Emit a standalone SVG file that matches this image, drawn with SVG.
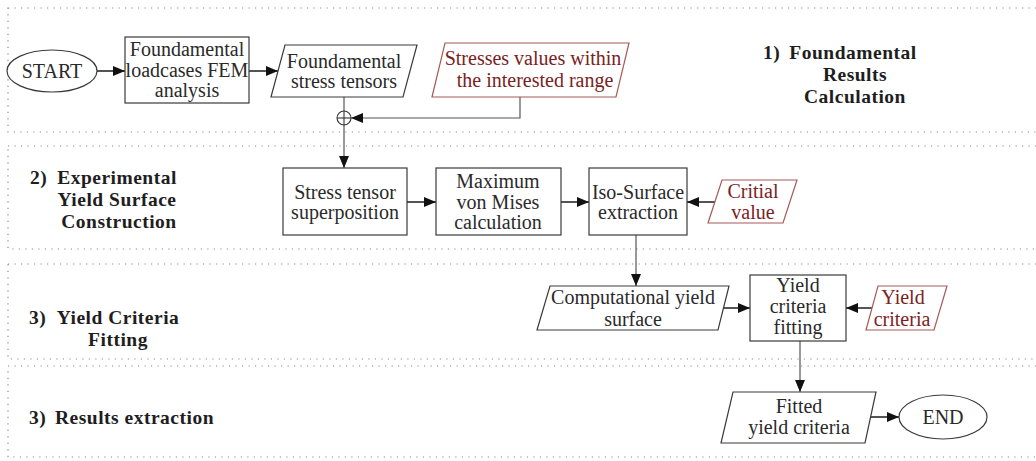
<svg xmlns="http://www.w3.org/2000/svg" width="1036" height="461" viewBox="0 0 1036 461" font-family="'Liberation Serif', 'DejaVu Serif', serif">
<style>
.lane{fill:none;stroke:#8a8a8a;stroke-width:1.2;stroke-dasharray:1.2 5.3}
.nd{fill:#fff;stroke:#3a3a3a;stroke-width:1.2}
.rd{fill:#fff;stroke:#a65a56;stroke-width:1.2}
.t{font-family:'Liberation Serif','DejaVu Serif',serif;font-size:20px;fill:#2a2a2a;text-anchor:middle}
.tr{font-family:'Liberation Serif','DejaVu Serif',serif;font-size:20px;fill:#7a2222;text-anchor:middle}
.lb{font-family:'Liberation Serif','DejaVu Serif',serif;font-size:19.5px;letter-spacing:0.5px;font-weight:bold;fill:#1e1e1e}
.c{fill:none;stroke:#2a2a2a;stroke-width:1.6}
.cv{fill:none;stroke:#555;stroke-width:1.2}
</style>
<defs>
<marker id="ahb" viewBox="0 0 10 10" refX="10" refY="5" markerWidth="12" markerHeight="10" markerUnits="userSpaceOnUse" orient="auto" preserveAspectRatio="none">
<path d="M0,0 L10,5 L0,10 z" fill="#111"/>
</marker>
</defs>
<rect width="1036" height="461" fill="#fff"/>
<g id="lanes">
<rect class="lane" x="8" y="8" width="1040" height="124"/>
<rect class="lane" x="8" y="146" width="1040" height="103"/>
<rect class="lane" x="8" y="264" width="1040" height="95"/>
<rect class="lane" x="8" y="366" width="1040" height="91"/>
</g>
<g id="lane-labels">
<text class="lb" x="763" y="59">1)</text>
<text class="lb" x="853" y="59" text-anchor="middle">Foundamental</text>
<text class="lb" x="855" y="81" text-anchor="middle">Results</text>
<text class="lb" x="855" y="103" text-anchor="middle">Calculation</text>
<text class="lb" x="30" y="184">2)</text>
<text class="lb" x="117" y="184" text-anchor="middle">Experimental</text>
<text class="lb" x="117" y="206" text-anchor="middle">Yield Surface</text>
<text class="lb" x="119" y="228" text-anchor="middle">Construction</text>
<text class="lb" x="29" y="324">3)</text>
<text class="lb" x="118" y="324" text-anchor="middle">Yield Criteria</text>
<text class="lb" x="118" y="346" text-anchor="middle">Fitting</text>
<text class="lb" x="29" y="424">3)</text>
<text class="lb" x="55" y="424">Results extraction</text>
</g>
<g id="connectors">
<line class="c" x1="97" y1="71" x2="125" y2="71" marker-end="url(#ahb)"/>
<line class="c" x1="249" y1="71" x2="278" y2="71" marker-end="url(#ahb)"/>
<line class="cv" x1="344" y1="97" x2="344" y2="168" marker-end="url(#ahb)"/>
<circle cx="344" cy="118" r="7" fill="#fff" stroke="#333" stroke-width="1.1"/>
<line x1="337" y1="118" x2="351" y2="118" stroke="#333" stroke-width="1.1"/>
<line x1="344" y1="111" x2="344" y2="125" stroke="#333" stroke-width="1.1"/>
<polyline class="cv" points="520,97 520,118 351,118" marker-end="url(#ahb)"/>
<line class="c" x1="407" y1="202" x2="436" y2="202" marker-end="url(#ahb)"/>
<line class="c" x1="561" y1="202" x2="589" y2="202" marker-end="url(#ahb)"/>
<line class="c" x1="715" y1="202" x2="687" y2="202" marker-end="url(#ahb)"/>
<line class="cv" x1="636" y1="235" x2="636" y2="286" marker-end="url(#ahb)"/>
<line class="c" x1="723" y1="308" x2="750" y2="308" marker-end="url(#ahb)"/>
<line class="c" x1="872" y1="308" x2="846" y2="308" marker-end="url(#ahb)"/>
<line class="cv" x1="800" y1="341" x2="800" y2="392" marker-end="url(#ahb)"/>
<line class="c" x1="870" y1="417" x2="899" y2="417" marker-end="url(#ahb)"/>
</g>
<g id="start">
<ellipse class="nd" cx="52" cy="71" rx="45" ry="21"/>
<text class="t" x="52" y="78">START</text>
</g>
<g id="fem">
<rect class="nd" x="125" y="37" width="124" height="66"/>
<text class="t" x="187" y="56">Foundamental</text>
<text class="t" x="187" y="77">loadcases FEM</text>
<text class="t" x="187" y="97">analysis</text>
</g>
<g id="tensors">
<polygon class="nd" points="285,45 417,45 403,97 271,97"/>
<text class="t" x="344" y="68">Foundamental</text>
<text class="t" x="344" y="88">stress tensors</text>
</g>
<g id="range">
<polygon class="rd" points="445,43 629,43 616,97 432,97"/>
<text class="tr" x="533" y="65">Stresses values within</text>
<text class="tr" x="535" y="87">the interested range</text>
</g>
<g id="superposition">
<rect class="nd" x="283" y="168" width="124" height="67"/>
<text class="t" x="345" y="199">Stress tensor</text>
<text class="t" x="345" y="219">superposition</text>
</g>
<g id="vonmises">
<rect class="nd" x="436" y="168" width="125" height="67"/>
<text class="t" x="498" y="188">Maximum</text>
<text class="t" x="498" y="209">von Mises</text>
<text class="t" x="498" y="229">calculation</text>
</g>
<g id="isosurface">
<rect class="nd" x="589" y="168" width="98" height="67"/>
<text class="t" x="638" y="199">Iso-Surface</text>
<text class="t" x="638" y="219">extraction</text>
</g>
<g id="critical">
<polygon class="rd" points="722,180 797,180 783,223 708,223"/>
<text class="tr" x="753" y="198">Critial</text>
<text class="tr" x="753" y="219">value</text>
</g>
<g id="computational">
<polygon class="nd" points="550,286 729,286 718,330 537,330"/>
<text class="t" x="633" y="304">Computational yield</text>
<text class="t" x="633" y="326">surface</text>
</g>
<g id="fitting">
<rect class="nd" x="750" y="275" width="96" height="66"/>
<text class="t" x="798" y="292">Yield</text>
<text class="t" x="798" y="313">criteria</text>
<text class="t" x="798" y="334">fitting</text>
</g>
<g id="criteria">
<polygon class="rd" points="878,286 947,286 934,330 866,330"/>
<text class="tr" x="903" y="304">Yield</text>
<text class="tr" x="902" y="326">criteria</text>
</g>
<g id="fitted">
<polygon class="nd" points="733,392 876,392 865,443 721,443"/>
<text class="t" x="799" y="413">Fitted</text>
<text class="t" x="799" y="434">yield criteria</text>
</g>
<g id="end">
<ellipse class="nd" cx="943" cy="417" rx="44" ry="22"/>
<text class="t" x="943" y="424">END</text>
</g>
</svg>
